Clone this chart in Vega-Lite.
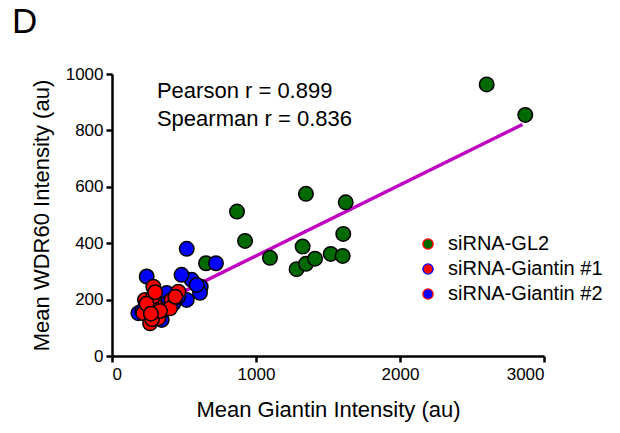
{
  "$schema": "https://vega.github.io/schema/vega-lite/v6.json",
  "width": 432,
  "height": 282,
  "autosize": {"type": "none"},
  "padding": {"left": 112, "top": 74, "right": 76, "bottom": 77},
  "background": "white",
  "config": {
    "view": {"stroke": null},
    "font": "Liberation Sans",
    "axis": {"grid": false, "domainColor": "black", "domainWidth": 2.5, "tickColor": "black", "tickWidth": 2.5, "tickSize": 6, "labelFontSize": 17, "labelColor": "black", "titleFontSize": 22, "titleFontWeight": "normal", "titleColor": "black", "labelFont": "Liberation Sans", "titleFont": "Liberation Sans", "format": "d"}
  },
  "title": {"text": "D", "anchor": "start", "frame": "group", "dx": -100, "offset": 25, "fontSize": 35, "fontWeight": "normal", "font": "Liberation Sans", "color": "black"},
  "datasets": {
    "points": [
      {"group": "siRNA-GL2", "giantin": 2602, "wdr60": 963},
      {"group": "siRNA-GL2", "giantin": 2870, "wdr60": 855},
      {"group": "siRNA-GL2", "giantin": 868, "wdr60": 512},
      {"group": "siRNA-GL2", "giantin": 924, "wdr60": 408},
      {"group": "siRNA-GL2", "giantin": 1347, "wdr60": 575},
      {"group": "siRNA-GL2", "giantin": 1623, "wdr60": 545},
      {"group": "siRNA-GL2", "giantin": 1606, "wdr60": 433},
      {"group": "siRNA-GL2", "giantin": 1324, "wdr60": 388},
      {"group": "siRNA-GL2", "giantin": 1097, "wdr60": 348},
      {"group": "siRNA-GL2", "giantin": 1282, "wdr60": 308},
      {"group": "siRNA-GL2", "giantin": 1347, "wdr60": 327},
      {"group": "siRNA-GL2", "giantin": 1410, "wdr60": 345},
      {"group": "siRNA-GL2", "giantin": 1519, "wdr60": 362},
      {"group": "siRNA-GL2", "giantin": 1602, "wdr60": 355},
      {"group": "siRNA-GL2", "giantin": 653, "wdr60": 329},
      {"group": "siRNA-Giantin #2", "giantin": 519, "wdr60": 380},
      {"group": "siRNA-Giantin #2", "giantin": 722, "wdr60": 329},
      {"group": "siRNA-Giantin #2", "giantin": 553, "wdr60": 270},
      {"group": "siRNA-Giantin #2", "giantin": 616, "wdr60": 246},
      {"group": "siRNA-Giantin #2", "giantin": 611, "wdr60": 224},
      {"group": "siRNA-Giantin #2", "giantin": 483, "wdr60": 288},
      {"group": "siRNA-Giantin #2", "giantin": 519, "wdr60": 199},
      {"group": "siRNA-Giantin #2", "giantin": 241, "wdr60": 282},
      {"group": "siRNA-Giantin #2", "giantin": 588, "wdr60": 252},
      {"group": "siRNA-Giantin #2", "giantin": 183, "wdr60": 152},
      {"group": "siRNA-Giantin #2", "giantin": 380, "wdr60": 223},
      {"group": "siRNA-Giantin #2", "giantin": 345, "wdr60": 128},
      {"group": "siRNA-Giantin #2", "giantin": 210, "wdr60": 160},
      {"group": "siRNA-Giantin #2", "giantin": 300, "wdr60": 145},
      {"group": "siRNA-Giantin #2", "giantin": 425, "wdr60": 185},
      {"group": "siRNA-Giantin #2", "giantin": 460, "wdr60": 210},
      {"group": "siRNA-Giantin #2", "giantin": 250, "wdr60": 170},
      {"group": "siRNA-Giantin #2", "giantin": 390, "wdr60": 190},
      {"group": "siRNA-Giantin #1", "giantin": 287, "wdr60": 246},
      {"group": "siRNA-Giantin #1", "giantin": 229, "wdr60": 199},
      {"group": "siRNA-Giantin #1", "giantin": 461, "wdr60": 228},
      {"group": "siRNA-Giantin #1", "giantin": 414, "wdr60": 199},
      {"group": "siRNA-Giantin #1", "giantin": 218, "wdr60": 152},
      {"group": "siRNA-Giantin #1", "giantin": 264, "wdr60": 116},
      {"group": "siRNA-Giantin #1", "giantin": 322, "wdr60": 134},
      {"group": "siRNA-Giantin #1", "giantin": 310, "wdr60": 175},
      {"group": "siRNA-Giantin #1", "giantin": 357, "wdr60": 163},
      {"group": "siRNA-Giantin #1", "giantin": 287, "wdr60": 211},
      {"group": "siRNA-Giantin #1", "giantin": 403, "wdr60": 169},
      {"group": "siRNA-Giantin #1", "giantin": 278, "wdr60": 131},
      {"group": "siRNA-Giantin #1", "giantin": 333, "wdr60": 160},
      {"group": "siRNA-Giantin #1", "giantin": 300, "wdr60": 226},
      {"group": "siRNA-Giantin #1", "giantin": 240, "wdr60": 185},
      {"group": "siRNA-Giantin #1", "giantin": 270, "wdr60": 150},
      {"group": "siRNA-Giantin #1", "giantin": 440, "wdr60": 210}
    ],
    "fit": [
      {"giantin": 190, "wdr60": 151},
      {"giantin": 2850, "wdr60": 821}
    ],
    "notes": [
      {"giantin": 312, "wdr60": 938, "label": "Pearson r = 0.899"},
      {"giantin": 312, "wdr60": 840, "label": "Spearman r = 0.836"}
    ]
  },
  "layer": [
    {
      "data": {"name": "fit"},
      "mark": {"type": "line", "color": "#C000C0", "strokeWidth": 3.5},
      "encoding": {
        "x": {"field": "giantin", "type": "quantitative", "scale": {"domain": [0, 3000], "nice": false}, "axis": {"title": "Mean Giantin Intensity (au)", "values": [0, 1000, 2000, 3000], "titlePadding": 17, "labelPadding": 4}},
        "y": {"field": "wdr60", "type": "quantitative", "scale": {"domain": [0, 1000], "nice": false}, "axis": {"title": "Mean WDR60 Intensity (au)", "values": [0, 200, 400, 600, 800, 1000], "titlePadding": 12, "labelPadding": 3}}
      }
    },
    {
      "data": {"name": "points"},
      "mark": {"type": "point", "filled": true, "stroke": "black", "strokeWidth": 1.5, "size": 210, "opacity": 1},
      "encoding": {
        "x": {"field": "giantin", "type": "quantitative"},
        "y": {"field": "wdr60", "type": "quantitative"},
        "fill": {
          "field": "group", "type": "nominal",
          "scale": {"domain": ["siRNA-GL2", "siRNA-Giantin #1", "siRNA-Giantin #2"], "range": ["#006A00", "#FF0000", "#0000FF"]},
          "legend": {
            "title": null, "orient": "none", "legendX": 306, "legendY": 160,
            "labelFontSize": 20, "labelFont": "Liberation Sans", "labelColor": "black",
            "symbolSize": 105, "symbolType": "circle", "symbolStrokeWidth": 1.4, "rowPadding": 5, "labelOffset": 10,
            "symbolStrokeColor": {"expr": "datum.value === 'siRNA-Giantin #1' ? '#0000FF' : '#FF0000'"},
            "encode": {"symbols": {"stroke": {"value": {"expr": "datum.value === 'siRNA-Giantin #1' ? '#0000FF' : '#FF0000'"}}, "strokeWidth": {"value": 1.4}}}
          }
        }
      }
    },
    {
      "data": {"name": "notes"},
      "mark": {"type": "text", "align": "left", "baseline": "middle", "fontSize": 22, "font": "Liberation Sans", "color": "black"},
      "encoding": {
        "x": {"field": "giantin", "type": "quantitative"},
        "y": {"field": "wdr60", "type": "quantitative"},
        "text": {"field": "label"}
      }
    }
  ]
}
